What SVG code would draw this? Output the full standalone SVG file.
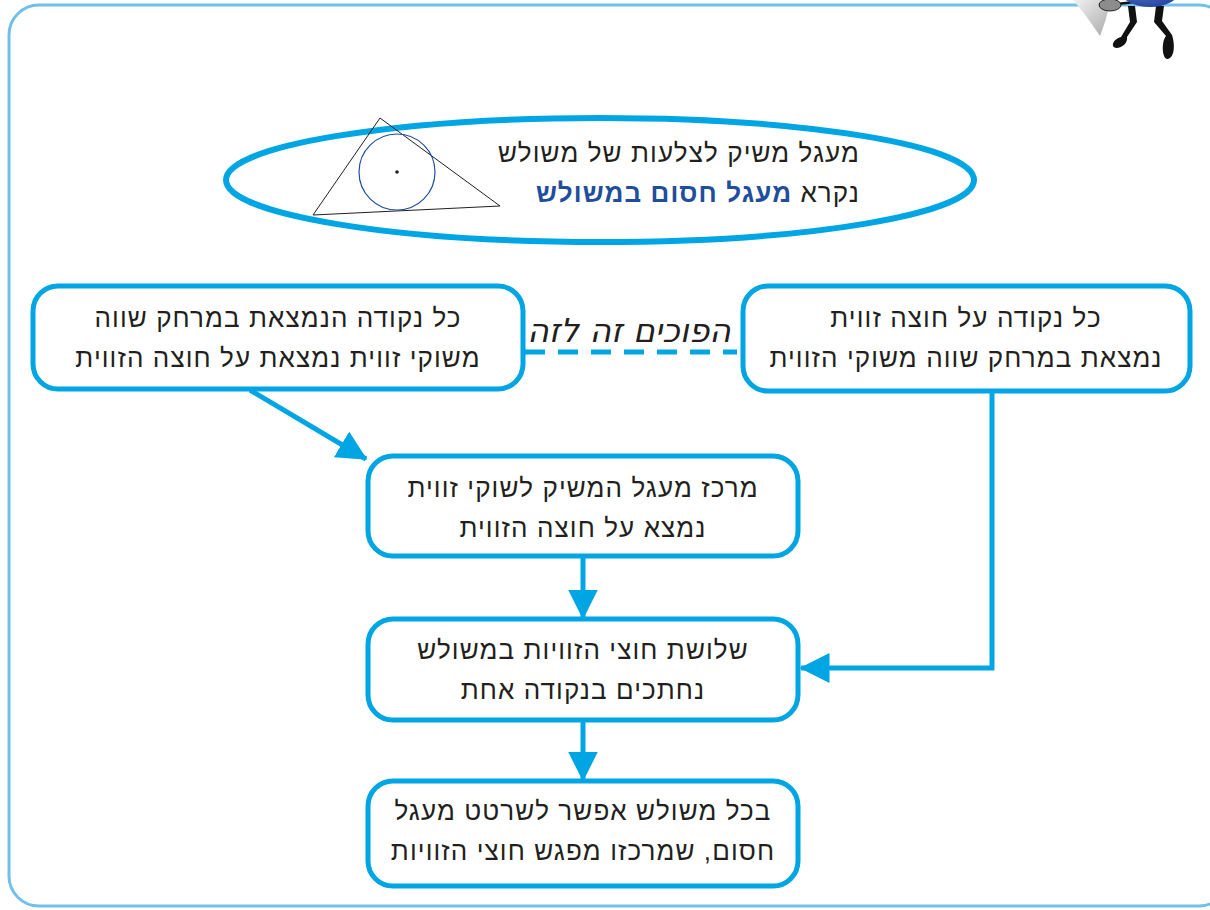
<svg xmlns="http://www.w3.org/2000/svg" width="1210" height="910" viewBox="0 0 1210 910">
  <style>
    .box { fill: #ffffff; stroke: #00a6e3; stroke-width: 5; }
    .t { font-family: "Liberation Sans", "DejaVu Sans", sans-serif; font-size: 26px; letter-spacing: 1.1px; fill: #231f20; }
    .conn { stroke: #00a6e3; stroke-width: 5; fill: none; }
  </style>
  <defs>
    <marker id="arrow" viewBox="0 0 10 10" refX="9.5" refY="5" markerWidth="6" markerHeight="6" markerUnits="strokeWidth" orient="auto">
      <path d="M0,0 L10,5 L0,10 z" fill="#00a6e3"/>
    </marker>
    <radialGradient id="bodyGrad" cx="0.4" cy="0.3" r="0.8">
      <stop offset="0" stop-color="#6f86d6"/>
      <stop offset="1" stop-color="#1d3e9a"/>
    </radialGradient>
    <linearGradient id="wingGrad" x1="0" y1="0" x2="1" y2="1">
      <stop offset="0" stop-color="#f2f2f2"/>
      <stop offset="1" stop-color="#a9a9a9"/>
    </linearGradient>
  </defs>

  <!-- page frame -->
  <rect x="9" y="5" width="1220" height="901" rx="30" fill="none" stroke="#70c0ec" stroke-width="3"/>

  <!-- mascot peeking at the top corner -->
  <g id="mascot">
    <path d="M1073,0 L1110,0 C1108,15 1103,28 1100,36 C1092,24 1082,10 1073,0 z" fill="url(#wingGrad)"/>
    <path d="M1128,6 L1130,22 L1121,37 C1113,39 1110,47 1116,48 C1123,48 1128,42 1127,37 L1137,22 L1135,6 z" fill="#111"/>
    <path d="M1156,6 L1154,22 L1166,36 C1161,42 1162,60 1168,59 C1175,57 1175,44 1172,35 L1162,21 L1164,6 z" fill="#111"/>
    <line x1="1108" y1="5" x2="1135" y2="2" stroke="#111" stroke-width="2.5"/>
    <ellipse cx="1110" cy="5" rx="11" ry="6" fill="#8c8c8c" stroke="#222" stroke-width="1"/>
    <ellipse cx="1150" cy="-10" rx="30" ry="17" fill="url(#bodyGrad)"/>
  </g>

  <!-- definition bubble -->
  <g id="incircle-definition">
    <ellipse cx="600" cy="180" rx="374" ry="62" fill="#ffffff" stroke="#00a6e3" stroke-width="6"/>
    <polygon points="380,118 313,215 500,206" fill="none" stroke="#231f20" stroke-width="1"/>
    <circle cx="397" cy="172" r="38" fill="none" stroke="#1f4e9c" stroke-width="1.2"/>
    <circle cx="397" cy="172" r="1.8" fill="#231f20"/>
    <text class="t" x="860" y="162" direction="rtl" text-anchor="start">מעגל משיק לצלעות של משולש</text>
    <text class="t" x="860" y="202" direction="rtl" text-anchor="start">נקרא <tspan font-weight="bold" fill="#1f4e9c">מעגל חסום במשולש</tspan></text>
  </g>

  <g id="point-equidistant">
    <rect class="box" x="33" y="286" width="490" height="103" rx="25"/>
    <text class="t" x="278" y="327" text-anchor="middle" direction="rtl">כל נקודה הנמצאת במרחק שווה</text>
    <text class="t" x="278" y="367" text-anchor="middle" direction="rtl">משוקי זווית נמצאת על חוצה הזווית</text>
  </g>

  <g id="point-on-bisector">
    <rect class="box" x="743" y="286" width="447" height="105" rx="25"/>
    <text class="t" x="966" y="327" text-anchor="middle" direction="rtl">כל נקודה על חוצה זווית</text>
    <text class="t" x="966" y="367" text-anchor="middle" direction="rtl">נמצאת במרחק שווה משוקי הזווית</text>
  </g>

  <g id="tangent-center">
    <rect class="box" x="368" y="456" width="430" height="100" rx="25"/>
    <text class="t" x="583" y="497" text-anchor="middle" direction="rtl">מרכז מעגל המשיק לשוקי זווית</text>
    <text class="t" x="583" y="537" text-anchor="middle" direction="rtl">נמצא על חוצה הזווית</text>
  </g>

  <g id="bisectors-meet">
    <rect class="box" x="368" y="619" width="430" height="101" rx="25"/>
    <text class="t" x="583" y="659" text-anchor="middle" direction="rtl">שלושת חוצי הזוויות במשולש</text>
    <text class="t" x="583" y="699" text-anchor="middle" direction="rtl">נחתכים בנקודה אחת</text>
  </g>

  <g id="conclusion">
    <rect class="box" x="368" y="781" width="430" height="105" rx="25"/>
    <text class="t" x="583" y="820" text-anchor="middle" direction="rtl">בכל משולש אפשר לשרטט מעגל</text>
    <text class="t" x="583" y="860" text-anchor="middle" direction="rtl">חסום, שמרכזו מפגש חוצי הזוויות</text>
  </g>

  <!-- connectors -->
  <g id="connectors">
    <line x1="525" y1="352" x2="737" y2="352" stroke="#00a6e3" stroke-width="5" stroke-dasharray="20,13"/>
    <text x="629" y="342" text-anchor="middle" direction="rtl" font-family="DejaVu Sans, sans-serif" font-size="33" font-style="italic" fill="#231f20">הפוכים זה לזה</text>
    <line class="conn" x1="250" y1="390" x2="366" y2="459" marker-end="url(#arrow)"/>
    <line class="conn" x1="583" y1="557" x2="583" y2="618" marker-end="url(#arrow)"/>
    <line class="conn" x1="583" y1="721" x2="583" y2="780" marker-end="url(#arrow)"/>
    <polyline class="conn" points="992,392 992,668 801,668" marker-end="url(#arrow)"/>
  </g>
</svg>
